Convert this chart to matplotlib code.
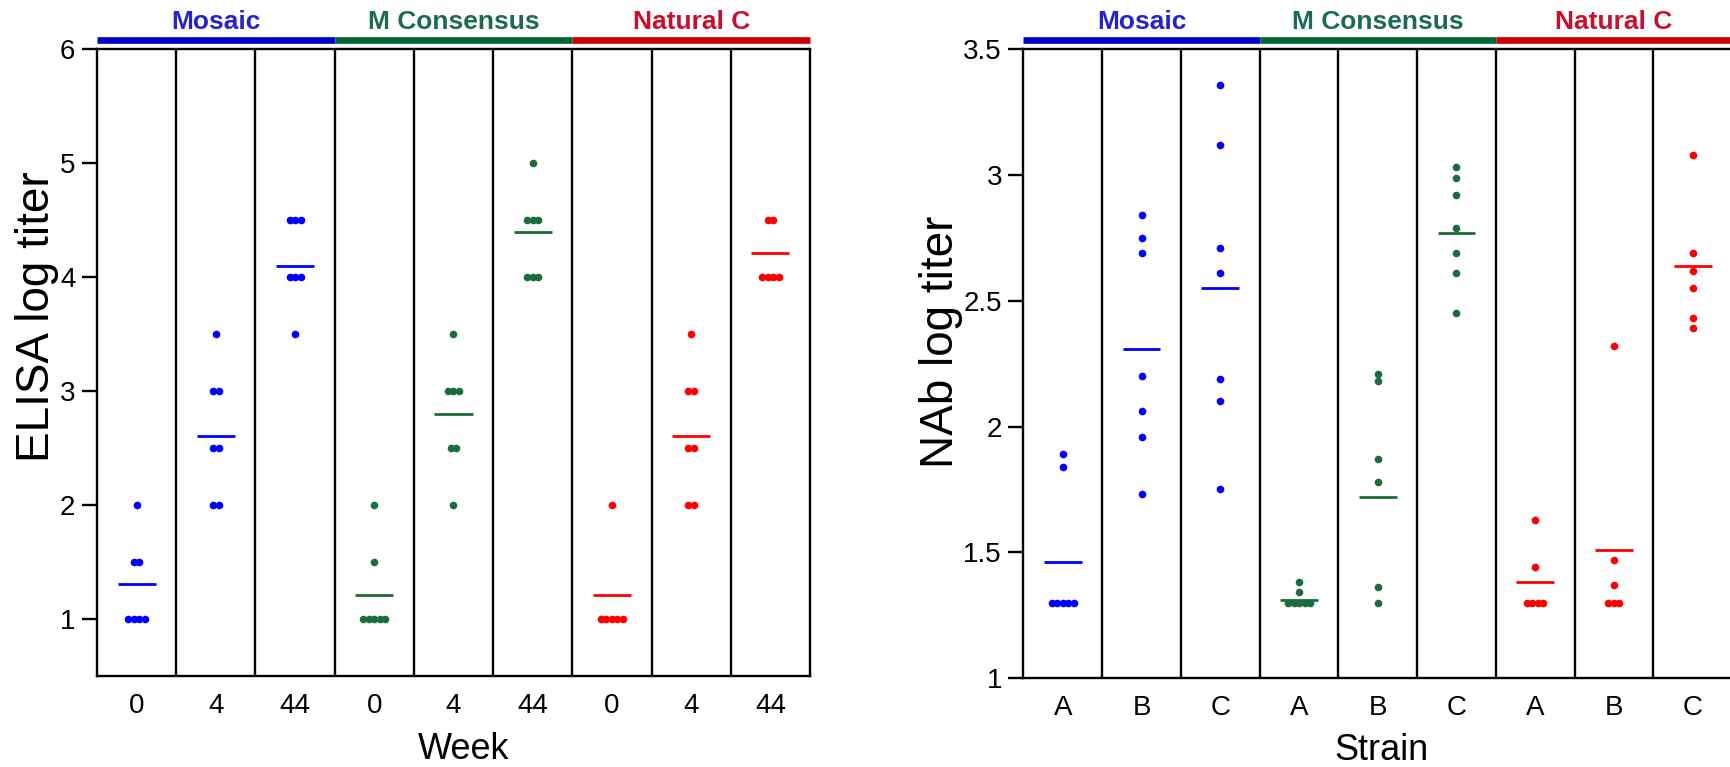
import matplotlib
matplotlib.use("Agg")
import matplotlib.pyplot as plt
import numpy as np

plt.rcParams['font.family'] = ['Liberation Sans', 'DejaVu Sans']

# ---------------- data ----------------
groups = ["Mosaic", "M Consensus", "Natural C"]
group_label_colors = ["#2424C8", "#1C6A55", "#C8102E"]
group_bar_colors = ["#0000CC", "#006633", "#CC0000"]
point_colors = ["#0000FF", "#1B6E3C", "#FF0000"]

# Left panel: ELISA log titer by week
elisa_xticklabels = ["0", "4", "44", "0", "4", "44", "0", "4", "44"]
elisa_yticks = [1, 2, 3, 4, 5, 6]
elisa_yticklabels = ["1", "2", "3", "4", "5", "6"]
elisa_mosaic_w0 = [2.0, 1.5, 1.5, 1.0, 1.0, 1.0, 1.0]
elisa_mosaic_w4 = [3.5, 3.0, 3.0, 2.5, 2.5, 2.0, 2.0]
elisa_mosaic_w44 = [4.5, 4.5, 4.5, 4.0, 4.0, 4.0, 3.5]
elisa_mcons_w0 = [2.0, 1.5, 1.0, 1.0, 1.0, 1.0, 1.0]
elisa_mcons_w4 = [3.5, 3.0, 3.0, 3.0, 2.5, 2.5, 2.0]
elisa_mcons_w44 = [5.0, 4.5, 4.5, 4.5, 4.0, 4.0, 4.0]
elisa_natc_w0 = [2.0, 1.0, 1.0, 1.0, 1.0, 1.0]
elisa_natc_w4 = [3.5, 3.0, 3.0, 2.5, 2.5, 2.0, 2.0]
elisa_natc_w44 = [4.5, 4.5, 4.0, 4.0, 4.0, 4.0]
elisa_means = [1.31, 2.61, 4.10, 1.21, 2.80, 4.40, 1.21, 2.61, 4.21]

# Right panel: NAb log titer by strain
nab_xticklabels = ["A", "B", "C", "A", "B", "C", "A", "B", "C"]
nab_yticks = [1.0, 1.5, 2.0, 2.5, 3.0, 3.5]
nab_yticklabels = ["1", "1.5", "2", "2.5", "3", "3.5"]
nab_mosaic_a = [1.89, 1.84, 1.30, 1.30, 1.30, 1.30, 1.30]
nab_mosaic_b = [2.84, 2.75, 2.69, 2.20, 2.06, 1.96, 1.73]
nab_mosaic_c = [3.36, 3.12, 2.71, 2.61, 2.19, 2.10, 1.75]
nab_mcons_a = [1.38, 1.34, 1.30, 1.30, 1.30, 1.30, 1.30]
nab_mcons_b = [2.21, 2.18, 1.87, 1.78, 1.36, 1.30]
nab_mcons_c = [3.03, 2.99, 2.92, 2.79, 2.69, 2.61, 2.45]
nab_natc_a = [1.63, 1.44, 1.30, 1.30, 1.30, 1.30]
nab_natc_b = [2.32, 1.47, 1.37, 1.30, 1.30, 1.30]
nab_natc_c = [3.08, 2.69, 2.62, 2.55, 2.43, 2.39]
nab_means = [1.46, 2.31, 2.55, 1.31, 1.72, 2.77, 1.38, 1.51, 2.64]

elisa_sets = [elisa_mosaic_w0, elisa_mosaic_w4, elisa_mosaic_w44,
              elisa_mcons_w0, elisa_mcons_w4, elisa_mcons_w44,
              elisa_natc_w0, elisa_natc_w4, elisa_natc_w44]
nab_sets = [nab_mosaic_a, nab_mosaic_b, nab_mosaic_c,
            nab_mcons_a, nab_mcons_b, nab_mcons_c,
            nab_natc_a, nab_natc_b, nab_natc_c]

# ---------------- drawing ----------------
LW = 1.7
DOT_STEP = 0.07
MEAN_HALF = 0.24


def dot_offsets(vals, step):
    vals = np.asarray(vals)
    offs = np.zeros(len(vals))
    for v in np.unique(vals):
        idx = np.where(vals == v)[0]
        n = len(idx)
        offs[idx] = (np.arange(n) - (n - 1) / 2.0) * step
    return offs


def draw_panel(ax, sets, means, xticklabels, yticks, yticklabels, ylim,
               xlabel, ylabel, xlabel_pos, ylabel_pos):
    n = len(sets)
    xs = np.arange(1, n + 1)
    for i, (vals, m) in enumerate(zip(sets, means)):
        g = i // 3
        col = point_colors[g]
        offs = dot_offsets(vals, DOT_STEP)
        ax.plot(xs[i] + offs, vals, linestyle="none", marker="o",
                markersize=5.5, markeredgewidth=0, color=col, zorder=3)
        ax.hlines(m, xs[i] - MEAN_HALF, xs[i] + MEAN_HALF, color=col,
                  linewidth=2.0, zorder=3)
    for b in xs[:-1] + 0.5:
        ax.axvline(b, color="black", linewidth=LW, zorder=2)
    ax.set_xlim(0.5, n + 0.5)
    ax.set_ylim(*ylim)
    ax.set_xticks(xs)
    ax.set_xticklabels(xticklabels)
    ax.set_yticks(yticks)
    ax.set_yticklabels(yticklabels)
    ax.tick_params(axis="x", length=0, labelsize=20, pad=12)
    ax.tick_params(axis="y", direction="out", length=11, width=LW,
                   labelsize=20, pad=4.5)
    for s in ax.spines.values():
        s.set_linewidth(LW)
    ax.set_xlabel(xlabel, fontsize=26)
    ax.xaxis.set_label_coords(*xlabel_pos)
    ax.set_ylabel(ylabel, fontsize=33)
    ax.yaxis.set_label_coords(*ylabel_pos)
    # group header bars and labels
    tr = ax.get_xaxis_transform()
    for g, name in enumerate(groups):
        x0 = g * 3 + 0.5
        x1 = g * 3 + 3.5
        ax.plot([x0, x1], [1.0148, 1.0148], transform=tr,
                color=group_bar_colors[g], linewidth=4.8,
                solid_capstyle="butt", clip_on=False, zorder=4)
        ax.text((x0 + x1) / 2.0, 1.044, name, transform=tr, ha="center",
                va="center", fontsize=19, fontweight="bold",
                color=group_label_colors[g], clip_on=False)


fig = plt.figure(figsize=(17.31, 7.67), dpi=100)
ax1 = fig.add_axes([97 / 1731, (767 - 676) / 767, (810 - 97) / 1731,
                    (676 - 49.3) / 767])
ax2 = fig.add_axes([1023.5 / 1731, (767 - 678) / 767, (1732 - 1023.5) / 1731,
                    (678 - 49.3) / 767])

draw_panel(ax1, elisa_sets, elisa_means, elisa_xticklabels, elisa_yticks,
           elisa_yticklabels, (0.5, 6.0), "Week", "ELISA log titer",
           (0.514, -0.089), (-0.053, 0.574))
draw_panel(ax2, nab_sets, nab_means, nab_xticklabels, nab_yticks,
           nab_yticklabels, (1.0, 3.5), "Strain", "NAb log titer",
           (0.506, -0.088), (-0.085, 0.535))

fig.savefig("out.png", dpi=100)
